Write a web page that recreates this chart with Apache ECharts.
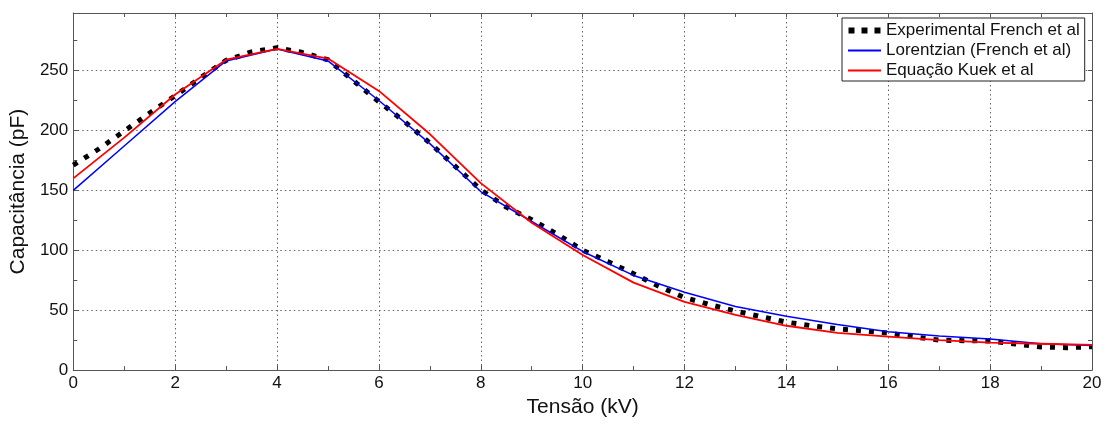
<!DOCTYPE html>
<html><head><meta charset="utf-8">
<script src="https://cdn.jsdelivr.net/npm/echarts@6/dist/echarts.min.js"></script>
<style>html,body{margin:0;padding:0;background:#fff}#c{width:1105px;height:423px}</style>
</head><body><div id="c"></div>
<script>
// Experimental (French et al), sampled every 0.5 kV
const expX = [0,0.5,1,1.5,2,2.5,3,3.5,4,4.5,5,5.5,6,6.5,7,7.5,8,8.5,9,9.5,10,10.5,11,11.5,12,12.5,13,13.5,14,14.5,15,15.5,16,16.5,17,17.5,18,18.5,19,19.5,20];
const expY = [171,184.5,199.5,214.5,229,244,258.5,265.5,269,265,259,241.5,224,207.5,189.5,170,150.5,136,125.5,113.5,100,90.5,80.4,69.8,60.5,54.6,49.3,44.6,40,37,34.4,32.7,30.9,27.8,25,24.5,24.3,21.8,19.3,18.7,19.5];
// Lorentzian and Kuek curves, every 1 kV
const fitX = [0,1,2,3,4,5,6,7,8,9,10,11,12,13,14,15,16,17,18,19,20];
const lorY = [150,187,224,258,268,258,225,189,149,124,99,79,65,53,45,38,32,28.5,26,22,20.5];
const kuekY = [160,194,230,259,268,260,233,197,156,123,96,73,57,46,37,31,28,25,23,22,21];
const seriesNames = ['Experimental French et al','Lorentzian (French et al)','Equação Kuek et al'];
const xName = 'Tensão (kV)';
const yName = 'Capacitância (pF)';

const pairs = (xs, ys) => xs.map((x, i) => [x, ys[i]]);
const FONT = 'Liberation Sans, Arial, sans-serif';
const axisLineStyle = {color: '#555', width: 1};
const XMIN = 0, XMAX = 20, YMIN = 0, YMAX = 298;
// legend icon for the dotted series: three square dots (tiny specks fix the icon box height)
const dotsIcon = 'path://M0,-4h0.01v0.01h-0.01zM0,10h0.01v0.01h-0.01zM0,0h6v6h-6zM13,0h6v6h-6zM26,0h6v6h-6z';

function tickAxis(kind, position, interval, showLine) {
  const base = kind === 'x' ? {min: XMIN, max: XMAX} : {min: YMIN, max: YMAX};
  return Object.assign(base, {
    type: 'value', position: position, interval: interval,
    axisLine: {show: showLine, onZero: false, lineStyle: axisLineStyle},
    axisTick: {show: true, inside: true, length: 4, lineStyle: axisLineStyle},
    axisLabel: {show: false}, splitLine: {show: false}
  });
}

const chart = echarts.init(document.getElementById('c'));
chart.setOption({
  animation: false,
  backgroundColor: '#fff',
  grid: {left: 72, right: 13, top: 13, bottom: 46, containLabel: false},
  xAxis: [{
    type: 'value', min: XMIN, max: XMAX, interval: 2, position: 'bottom',
    name: xName, nameLocation: 'middle', nameGap: 21,
    nameTextStyle: {fontSize: 21, color: '#111', fontFamily: FONT},
    axisLine: {show: true, onZero: false, lineStyle: axisLineStyle},
    axisTick: {show: true, inside: true, length: 5, lineStyle: axisLineStyle},
    axisLabel: {fontSize: 17, color: '#111', fontFamily: FONT, margin: 5},
    splitLine: {show: true, lineStyle: {color: '#666', type: [1.5, 3], width: 1}}
  },
    tickAxis('x', 'top', 1, true),
    tickAxis('x', 'bottom', 1, false)
  ],
  yAxis: [{
    type: 'value', min: YMIN, max: YMAX, interval: 50, position: 'left',
    name: yName, nameLocation: 'middle', nameGap: 37,
    nameTextStyle: {fontSize: 21, color: '#111', fontFamily: FONT},
    axisLine: {show: true, onZero: false, lineStyle: axisLineStyle},
    axisTick: {show: true, inside: true, length: 5, lineStyle: axisLineStyle},
    axisLabel: {fontSize: 17, color: '#111', fontFamily: FONT, margin: 5,
      formatter: v => (v % 50 === 0 ? String(v) : '')},
    splitLine: {show: true, lineStyle: {color: '#666', type: [1.5, 3], width: 1}}
  },
    tickAxis('y', 'right', 25, true),
    tickAxis('y', 'left', 25, false)
  ],
  legend: {
    orient: 'vertical', left: 842, top: 18,
    data: [
      {name: seriesNames[0], icon: dotsIcon, itemStyle: {opacity: 1, color: '#000', borderWidth: 0}},
      {name: seriesNames[1]},
      {name: seriesNames[2]}
    ],
    backgroundColor: '#fff', borderColor: '#222', borderWidth: 1, borderRadius: 0,
    padding: [4, 5, 2, 5], itemWidth: 33, itemHeight: 14, itemGap: 3,
    itemStyle: {opacity: 0},
    textStyle: {fontSize: 17, color: '#111', fontFamily: FONT}
  },
  series: [{
    name: seriesNames[0], type: 'line', data: pairs(expX, expY),
    showSymbol: false, symbol: 'none',
    lineStyle: {color: '#000', width: 5, type: [5, 8], cap: 'butt'},
    itemStyle: {color: '#000'}
  }, {
    name: seriesNames[1], type: 'line', data: pairs(fitX, lorY),
    showSymbol: false, symbol: 'none',
    lineStyle: {color: '#0000ff', width: 1.5}, itemStyle: {color: '#0000ff'}
  }, {
    name: seriesNames[2], type: 'line', data: pairs(fitX, kuekY),
    showSymbol: false, symbol: 'none',
    lineStyle: {color: '#ff0000', width: 1.8}, itemStyle: {color: '#ff0000'}
  }]
});
</script>
</body></html>
